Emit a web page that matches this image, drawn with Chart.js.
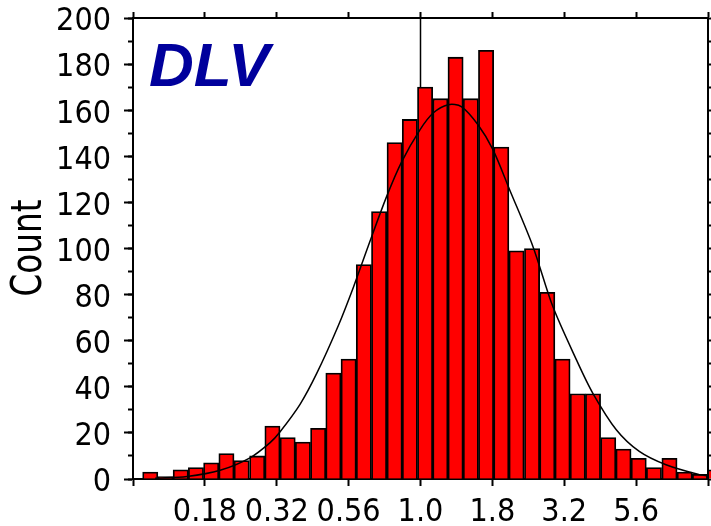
<!DOCTYPE html>
<html>
<head>
<meta charset="utf-8">
<script src="https://cdn.jsdelivr.net/npm/chart.js@4.4.1/dist/chart.umd.min.js"></script>
<style>
  html, body { margin: 0; padding: 0; background: #fff; }
  #c { display: block; }
</style>
</head>
<body>
<canvas id="c" width="711" height="526"></canvas>
<script>
// x axis is log10(DLV); bins are equal width in log space
const binCenters = [-0.940, -0.887, -0.834, -0.781, -0.728, -0.675, -0.622, -0.568,
  -0.515, -0.462, -0.409, -0.356, -0.303, -0.250, -0.197, -0.144, -0.090, -0.037,
  0.016, 0.069, 0.122, 0.175, 0.228, 0.281, 0.334, 0.388, 0.441, 0.494, 0.547,
  0.600, 0.653, 0.706, 0.759, 0.812, 0.866, 0.919, 0.972, 1.025];
const counts = [3, 1, 4, 5, 7, 11, 8, 10, 23, 18, 16, 22, 46, 52, 93, 116, 146, 156,
  170, 165, 183, 165, 186, 144, 99, 100, 81, 52, 37, 37, 18, 13, 9, 5, 9, 3, 2, 4];

// fitted curve
const curveX = [-0.923, -0.812, -0.697, -0.593, -0.523, -0.489, -0.419, -0.361, -0.286,
  -0.234, -0.182, -0.118, -0.066, -0.002, 0.044, 0.096, 0.142, 0.200, 0.252, 0.310,
  0.391, 0.460, 0.542, 0.599, 0.681, 0.761, 0.854, 0.969, 1.0];
const curveY = [0.3, 1.1, 3.8, 9.2, 15.8, 20.4, 32.4, 45.8, 66.5, 83.0, 101.0, 122.5,
  137.5, 151.5, 158.8, 162.4, 161.6, 153.7, 142.9, 125.5, 100.9, 74.9, 51.8, 37.3,
  21.4, 12.0, 6.2, 1.9, 1.4];

// reference line at DLV = 1.0
const refX = [0, 0];
const refY = [0, 200];

const tickValues = [-1, -0.75, -0.5, -0.25, 0, 0.25, 0.5, 0.75, 1];
const tickLabels = ['', '0.18', '0.32', '0.56', '1.0', '1.8', '3.2', '5.6', ''];

const FONT = '"DejaVu Sans Condensed", "DejaVu Sans"';

const setLogTicks = s => { s.ticks = tickValues.map(v => ({ value: v })); };

const frame = {
  drawOnChartArea: false,
  drawTicks: true,
  tickColor: '#000',
  tickWidth: 2,
  offset: false
};
const border = { display: true, color: '#000', width: 2 };

const labelsPlugin = {
  id: 'labels',
  afterDraw(chart) {
    const ctx = chart.ctx;
    ctx.save();
    ctx.fillStyle = '#00009C';
    ctx.font = 'italic bold 62px "Liberation Sans"';
    ctx.textAlign = 'left';
    ctx.textBaseline = 'alphabetic';
    ctx.fillText('DLV', 149, 86);
    ctx.restore();

    ctx.save();
    ctx.fillStyle = '#000';
    ctx.font = '42px ' + FONT;
    ctx.textAlign = 'center';
    ctx.textBaseline = 'alphabetic';
    ctx.translate(41, 248);
    ctx.rotate(-Math.PI / 2);
    const w = ctx.measureText('Count').width;
    ctx.scale(97 / w, 1);
    ctx.fillText('Count', 0, 0);
    ctx.restore();
  }
};

new Chart(document.getElementById('c'), {
  type: 'bar',
  data: {
    datasets: [
      {
        type: 'line',
        data: refX.map((x, i) => ({ x, y: refY[i] })),
        borderColor: '#000',
        borderWidth: 1.5,
        pointRadius: 0,
        order: 3
      },
      {
        data: binCenters.map((x, i) => ({ x, y: counts[i] })),
        backgroundColor: '#FF0000',
        borderColor: '#000',
        borderWidth: 1.8,
        barPercentage: 1,
        categoryPercentage: 1,
        clip: false,
        order: 2
      },
      {
        type: 'line',
        data: curveX.map((x, i) => ({ x, y: curveY[i] })),
        borderColor: '#000',
        borderWidth: 1.5,
        pointRadius: 0,
        tension: 0.3,
        order: 1
      }
    ]
  },
  options: {
    responsive: false,
    animation: false,
    devicePixelRatio: 1,
    layout: { padding: 0 },
    plugins: { legend: { display: false }, tooltip: { enabled: false } },
    scales: {
      x: {
        type: 'linear',
        position: 'bottom',
        min: -1, max: 1,
        offset: false,
        afterBuildTicks: setLogTicks,
        afterFit: s => { s.height = 47; s.paddingLeft = 0; s.paddingRight = 0; },
        grid: { ...frame, tickLength: 7 },
        border,
        ticks: {
          autoSkip: false, maxRotation: 0, padding: 7, color: '#000',
          font: { family: FONT, size: 32 },
          callback: v => tickLabels[tickValues.indexOf(v)]
        }
      },
      xTop: {
        type: 'linear',
        position: 'top',
        min: -1, max: 1,
        offset: false,
        afterBuildTicks: setLogTicks,
        afterFit: s => { s.height = 18; s.paddingLeft = 0; s.paddingRight = 0; },
        grid: { ...frame, tickLength: 6 },
        border,
        ticks: { display: false }
      },
      y: {
        type: 'linear',
        position: 'left',
        weight: 1,
        min: 0, max: 200,
        afterFit: s => { s.width = 133; s.paddingTop = 0; s.paddingBottom = 0; },
        grid: { ...frame, tickLength: 9 },
        border,
        ticks: {
          stepSize: 20, padding: 13, labelOffset: 4, color: '#000',
          font: { family: FONT, size: 32 }
        }
      },
      yMinor: {
        type: 'linear',
        position: 'left',
        weight: 0,
        min: 0, max: 200,
        afterFit: s => { s.width = 0; s.paddingTop = 0; s.paddingBottom = 0; },
        grid: { ...frame, tickLength: 5 },
        border,
        ticks: { display: false, stepSize: 10 }
      },
      yRight: {
        type: 'linear',
        position: 'right',
        min: 0, max: 200,
        afterFit: s => { s.width = 3; s.paddingTop = 0; s.paddingBottom = 0; },
        grid: { ...frame, tickLength: 6 },
        border,
        ticks: { display: false, stepSize: 10 }
      }
    }
  },
  plugins: [labelsPlugin]
});
</script>
</body>
</html>
